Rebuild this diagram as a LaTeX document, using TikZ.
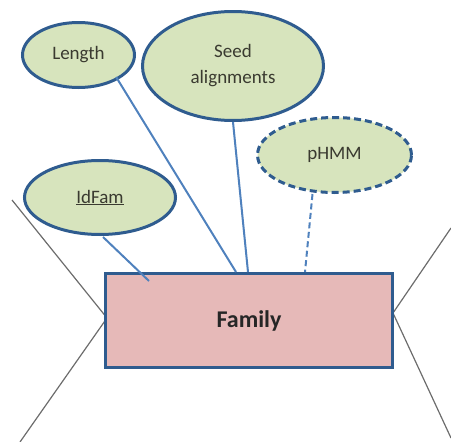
\documentclass[tikz,border=0pt]{standalone}
\usepackage{fontspec}
\setmainfont{Carlito}
\usetikzlibrary{shapes.geometric}
\definecolor{edgeblue}{HTML}{2F5C8F}
\definecolor{attrgreen}{HTML}{D7E4BD}
\definecolor{entpink}{HTML}{E6B9B8}
\definecolor{linkblue}{HTML}{4F81BD}
\definecolor{textgray}{HTML}{3A3A30}
\begin{document}
\begin{tikzpicture}[x=1pt,y=-1pt,
  attr/.style={ellipse, draw=edgeblue, line width=3pt, fill=attrgreen, inner sep=0pt,
    text=textgray, font=\fontsize{19}{23}\selectfont, align=center},
  entity/.style={rectangle, draw=edgeblue, line width=3pt, fill=entpink, inner sep=0pt,
    text=black!85, font=\fontsize{24}{28}\selectfont\bfseries},
  link/.style={draw=linkblue, line width=2pt},
  cross/.style={draw=gray!85!black, line width=1.2pt}]
\path[use as bounding box] (0,0) rectangle (451,442);
% relationship lines crossing at the entity's sides
\coordinate (lt) at (12,200);
\coordinate (lb) at (20,442);
\coordinate (rt) at (451,228);
\coordinate (rb) at (451,438);
\coordinate (lm) at (107,318);
\coordinate (rm) at (393,313);
\draw[cross] (lt) -- (lm) -- (lb);
\draw[cross] (rt) -- (rm) -- (rb);
% entity
\node[entity, minimum width=287pt, minimum height=94pt] (family) at (249,320.5) {Family};
% attributes
\node[attr, minimum width=112pt, minimum height=65pt] (length) at (78.5,55) {Length};
\node[attr, minimum width=181pt, minimum height=109pt] (seed) at (233,66) {Seed\\[3pt]alignments};
\node[attr, dashed, dash pattern=on 7pt off 4pt, minimum width=154pt, minimum height=75pt] (phmm) at (334.5,155) {pHMM};
\node[attr, minimum width=151pt, minimum height=74pt] (idfam) at (100,197.5) {\underline{IdFam}};
% connectors
\coordinate (idend) at (149,281);
\draw[link] (idfam.south) ++(3,1) coordinate (ids) (ids) -- (idend);
\draw[link] (length.south east) ++(-3,-2) coordinate (ls) (ls) -- (family.north -| 236,0);
\draw[link] (seed.south) -- (family.north -| 248,0);
\draw[link, dashed, dash pattern=on 6pt off 3.5pt] (phmm.south) ++(-22,0) coordinate (ps) (ps) -- (family.north -| 305,0);
\end{tikzpicture}
\end{document}
